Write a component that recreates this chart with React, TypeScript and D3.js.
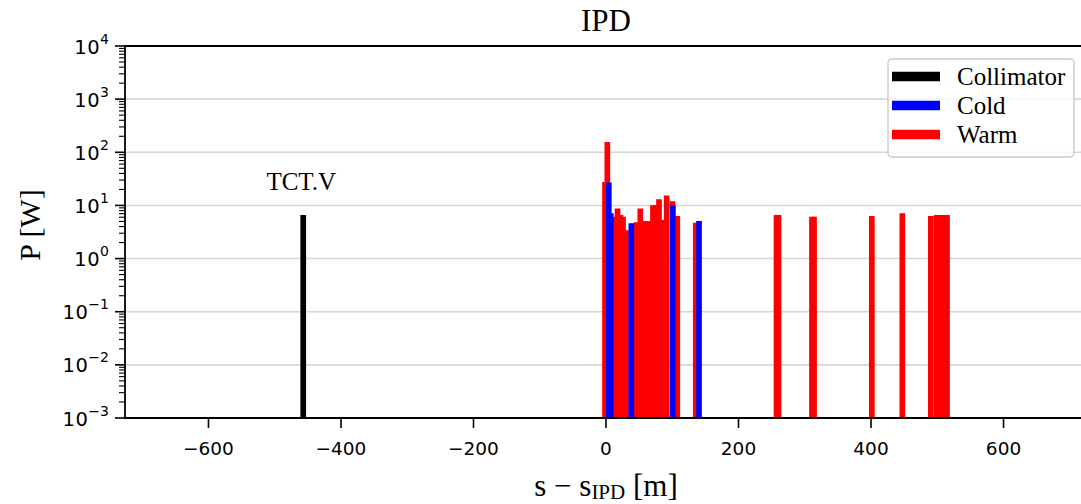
import React from "react";
import * as d3 from "d3";

// ---- data ----
const collimatorS = [-457];
const collimatorP = [6.6];
const collimatorLabel = "TCT.V";

const warmS = [-1.5, 2.0, 12.8, 17.4, 21.9, 25.7, 30.2, 46.0, 51.8, 57.4, 64.2, 70.9, 75.5, 80.0, 86.0, 91.6, 100.4, 107.6, 135.5, 257.4, 260.4, 310.9, 314.0, 401.2, 447.3, 490.3, 498.9, 504.2, 509.4, 514.7];
const warmP = [27.7, 157, 6.1, 8.8, 6.6, 6.1, 3.4, 4.8, 8.8, 5.1, 5.1, 10.1, 10.1, 13, 5.3, 15.4, 12, 6.3, 4.7, 6.6, 6.6, 6.1, 6.1, 6.3, 7.1, 6.3, 6.6, 6.6, 6.6, 6.6];

const coldS = [4.2, 7.2, 38.2, 100.8, 140.4];
const coldP = [27, 7.1, 4.6, 10.1, 5.1];

const xTicks = [-600, -400, -200, 0, 200, 400, 600];
const yExponents = [-3, -2, -1, 0, 1, 2, 3, 4];

const legendItems = ["Collimator", "Cold", "Warm"];
const legendColors = ["#000000", "#0000ff", "#ff0000"];

const W = 1081;
const H = 504;
const left = 125;
const right = 1087;
const top = 46;
const bottom = 418;

const fmtMinus = (v: number) => (v < 0 ? "\u2212" + Math.abs(v) : String(v));

export default function App() {
  const x = d3.scaleLinear().domain([-726, 726]).range([left, right]);
  const y = d3.scaleLog().domain([1e-3, 1e4]).range([bottom, top]);

  const minor: number[] = [];
  for (let e = -3; e < 4; e++) {
    for (let m = 2; m <= 9; m++) minor.push(m * Math.pow(10, e));
  }

  const lw = 5.7;
  const tickFont = "'DejaVu Sans', sans-serif";
  const serif = "'Liberation Serif', 'Times New Roman', serif";

  const vline = (s: number, p: number, color: string, key: string) => (
    <line
      key={key}
      x1={x(s)}
      x2={x(s)}
      y1={bottom}
      y2={y(p)}
      stroke={color}
      strokeWidth={lw}
    />
  );

  return (
    <svg
      width={W}
      height={H}
      style={{ position: "absolute", left: 0, top: 0, background: "#fff" }}
    >
      <rect x={0} y={0} width={W} height={H} fill="#fff" />
      {/* grid */}
      {yExponents.map((e) => (
        <line
          key={"g" + e}
          x1={left}
          x2={right}
          y1={y(Math.pow(10, e))}
          y2={y(Math.pow(10, e))}
          stroke="#d6d6d6"
          strokeWidth={1.6}
        />
      ))}
      {/* bars */}
      <g>
        {collimatorS.map((s, i) => vline(s, collimatorP[i], legendColors[0], "c" + i))}
        {warmS.map((s, i) => vline(s, warmP[i], legendColors[2], "w" + i))}
        {coldS.map((s, i) => vline(s, coldP[i], legendColors[1], "k" + i))}
      </g>
      {/* collimator label */}
      {collimatorS.map((s, i) => (
        <text
          key={"cl" + i}
          x={x(s) - 2}
          y={190}
          textAnchor="middle"
          fontFamily={serif}
          fontSize={25}
        >
          {collimatorLabel}
        </text>
      ))}
      {/* spines */}
      <line x1={left} x2={left} y1={top} y2={bottom} stroke="#000" strokeWidth={1.8} />
      <line x1={left - 0.9} x2={right} y1={bottom} y2={bottom} stroke="#000" strokeWidth={1.8} />
      <line x1={left - 0.9} x2={right} y1={top} y2={top} stroke="#000" strokeWidth={1.8} />
      <line x1={right} x2={right} y1={top} y2={bottom} stroke="#000" strokeWidth={1.8} />
      {/* y ticks */}
      {yExponents.map((e) => (
        <g key={"yt" + e}>
          <line
            x1={left - 10}
            x2={left}
            y1={y(Math.pow(10, e))}
            y2={y(Math.pow(10, e))}
            stroke="#000"
            strokeWidth={1.6}
          />
          <text
            x={109}
            y={y(Math.pow(10, e)) + 7.5}
            textAnchor="end"
            fontFamily={tickFont}
            fontSize={19.5}
          >
            <tspan letterSpacing={0.5}>10</tspan>
            <tspan fontSize={14} dy={-10}>{fmtMinus(e)}</tspan>
          </text>
        </g>
      ))}
      {minor.map((v, i) => (
        <line
          key={"ym" + i}
          x1={left - 6}
          x2={left}
          y1={y(v)}
          y2={y(v)}
          stroke="#000"
          strokeWidth={1.1}
        />
      ))}
      {/* x ticks */}
      {xTicks.map((t) => (
        <g key={"xt" + t}>
          <line x1={x(t)} x2={x(t)} y1={bottom} y2={bottom + 10} stroke="#000" strokeWidth={1.6} />
          <text
            x={x(t)}
            y={455}
            textAnchor="middle"
            fontFamily={tickFont}
            fontSize={18.5}
          >
            {fmtMinus(t)}
          </text>
        </g>
      ))}
      {/* title */}
      <text x={606} y={31} textAnchor="middle" fontFamily={serif} fontSize={31}>
        IPD
      </text>
      {/* x label */}
      <text x={606} y={496} textAnchor="middle" fontFamily={serif} fontSize={31}>
        <tspan>s − s</tspan>
        <tspan fontSize={21} dy={3}>IPD</tspan>
        <tspan dy={-3}> [m]</tspan>
      </text>
      {/* y label */}
      <text
        transform={`translate(40, 225) rotate(-90)`}
        textAnchor="middle"
        fontFamily={serif}
        fontSize={30}
      >
        P [W]
      </text>
      {/* legend */}
      <g>
        <rect
          x={888}
          y={59}
          width={186}
          height={98}
          rx={4}
          ry={4}
          fill="#fff"
          fillOpacity={0.8}
          stroke="#cccccc"
          strokeWidth={1.5}
        />
        {legendItems.map((name, i) => (
          <g key={"lg" + i}>
            <line
              x1={892}
              x2={940}
              y1={76.5 + i * 29}
              y2={76.5 + i * 29}
              stroke={legendColors[i]}
              strokeWidth={9.5}
            />
            <text x={957} y={85 + i * 29} fontFamily={serif} fontSize={25}>
              {name}
            </text>
          </g>
        ))}
      </g>
    </svg>
  );
}
